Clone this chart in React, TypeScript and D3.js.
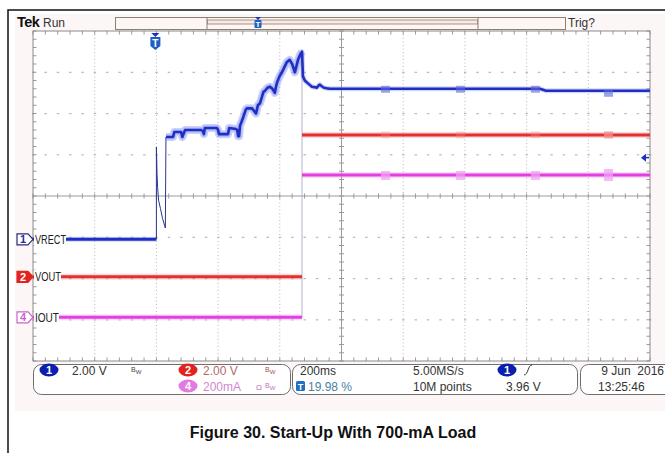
import React from "react";
import * as d3 from "d3";

// ---- data ----
const timeDomainMs = [-400, 1600]; // 200 ms/div, trigger at 19.98 %
const triggerTimeMs = 0;
const triggerLevelV = 3.96;

// CH1 VRECT (2.00 V/div)
const ch1PreTime = [-400, 0];
const ch1PreVolts = [0, 0];
const ch1TransientTime = [0, 0, 1, 2, 4, 7, 13, 20, 29, 31];
const ch1TransientVolts = [0, 4.47, 3.9, 3.2, 2.5, 1.9, 1.5, 1.0, 0.55, 4.96];
const ch1MainTime = [31, 54, 58, 80, 84, 93, 145, 150, 154, 157, 196, 200, 203, 232, 236, 258, 262, 265, 268, 271, 276, 281, 290, 294, 310, 318, 323, 326, 329, 336, 342, 347, 352, 360, 368, 376, 384, 387, 391, 399, 407, 415, 423, 432, 440, 449, 454, 459, 466, 472, 475, 481, 488, 496, 504, 512, 520, 525, 530, 536, 543, 553, 563, 1243, 1263, 1600];
const ch1MainVolts = [4.96, 4.96, 5.2, 5.2, 4.96, 5.3, 5.3, 5.25, 5.1, 5.4, 5.4, 5.3, 5.1, 5.1, 5.4, 5.35, 5.3, 5.0, 5.0, 5.5, 5.7, 5.9, 6.3, 6.35, 6.35, 6.2, 6.1, 6.3, 6.5, 6.6, 6.9, 7.15, 7.2, 7.35, 7.4, 7.3, 7.1, 7.35, 7.6, 7.9, 8.1, 8.35, 8.6, 8.7, 8.5, 8.1, 8.4, 8.7, 8.95, 9.1, 7.9, 7.7, 7.6, 7.5, 7.4, 7.38, 7.35, 7.45, 7.5, 7.42, 7.35, 7.32, 7.3, 7.3, 7.2, 7.2];

// CH2 VOUT (2.00 V/div)
const ch2Time = [-400, 472, 472, 1600];
const ch2Volts = [0, 0, 6.88, 6.88];

// CH4 IOUT (200 mA/div)
const ch4Time = [-400, 472, 472, 1600];
const ch4Amps = [0, 0, 0.69, 0.69];

// small acquisition blips on the settled traces
const blipTimes = [741, 984, 1227, 1464];

const channelLabels = ["VRECT", "VOUT", "IOUT"];
const caption = "Figure 30. Start-Up With 700-mA Load";

// ---- layout ----
const W = 665, H = 453;
const GX0 = 33, GX1 = 650, GY0 = 31, GY1 = 361;

const BLUE = "#1f2fc4";
const RED = "#e2312e";
const MAG = "#e23ee2";
const FONT = "'Liberation Sans', Arial, sans-serif";

export default function App() {
  const x = d3.scaleLinear().domain(timeDomainMs).range([GX0, GX1]);
  const div = d3.scaleLinear().domain([-4, 4]).range([GY1, GY0]);
  const y1 = (v: number) => div(v / 2 - 1.05);
  const y2 = (v: number) => div(v / 2 - 1.96);
  const y4 = (a: number) => div(a / 0.2 - 2.94);

  const dx = (GX1 - GX0) / 10;
  const dy = (GY1 - GY0) / 8;
  const majorX = d3.range(0, 11).map((i) => GX0 + i * dx);
  const majorY = d3.range(0, 9).map((i) => GY0 + i * dy);
  const minorX = d3.range(0, 51).map((i) => GX0 + (i * dx) / 5);
  const minorY = d3.range(0, 41).map((i) => GY0 + (i * dy) / 5);
  const cx = GX0 + 5 * dx, cy = GY0 + 4 * dy;

  const lineOf = (ts: number[], vs: number[], yf: (v: number) => number) =>
    d3.line<number>().x((_, i) => x(ts[i])).y((_, i) => yf(vs[i]))(ts.map((t) => t)) || "";

  const segs = (ts: number[], vs: number[]) => {
    const flat: [number, number, number][] = [];
    for (let i = 0; i < ts.length - 1; i++) {
      if (ts[i] !== ts[i + 1]) flat.push([ts[i], ts[i + 1], vs[i]]);
    }
    return flat;
  };
  const s2 = segs(ch2Time, ch2Volts);
  const s4 = segs(ch4Time, ch4Amps);

  const trace = (d: string, color: string, halo: string, w: number, hw: number) => (
    <g>
      <path d={d} fill="none" stroke={halo} strokeWidth={hw} strokeOpacity={0.35} strokeLinejoin="round" />
      <path d={d} fill="none" stroke={color} strokeWidth={w} strokeLinejoin="round" />
    </g>
  );

  const ch1Settled = (t: number) => {
    const i = d3.bisectLeft(ch1MainTime, t);
    return ch1MainVolts[Math.min(i, ch1MainVolts.length - 1)];
  };

  const marker = (yy: number, num: string, fill: string, stroke: string, textFill: string) => (
    <g>
      <path d={`M17,${yy - 5.5} H28 L33,${yy} L28,${yy + 5.5} H17 Z`} fill={fill} stroke={stroke} strokeWidth={1.2} />
      <text x={23} y={yy + 4} fontSize={11} fontFamily={FONT} fontWeight="bold" fill={textFill} textAnchor="middle">{num}</text>
    </g>
  );

  const ellipse = (ex: number, ey: number, fill: string, num: string) => (
    <g>
      <ellipse cx={ex} cy={ey} rx={9.5} ry={6.5} fill={fill} />
      <text x={ex} y={ey + 4} fontSize={11} fontFamily={FONT} fontWeight="bold" fill="#fff" textAnchor="middle">{num}</text>
    </g>
  );

  const bw = (bx: number, by: number, color: string) => (
    <text x={bx} y={by} fontSize={7} fontFamily={FONT} fill={color}>B<tspan dy={2} fontSize={6}>W</tspan></text>
  );

  const labelLens = [31, 26, 24];

  return (
    <svg width={W} height={H} style={{ position: "absolute", left: 0, top: 0, background: "#fff" }}>
      <rect x={0} y={0} width={W} height={H} fill="#fff" />
      <path d={`M8,${H} V10 H${W}`} fill="none" stroke="#111" strokeWidth={1.5} />
      <rect x={15} y={14} width={W - 15} height={397} fill="#fcf7f6" />
      <rect x={GX0} y={GY0} width={GX1 - GX0} height={GY1 - GY0} fill="#fff" />

      {/* header */}
      <text x={17} y={27} fontSize={14.5} fontFamily={FONT} fontWeight="bold" fill="#111" letterSpacing={-0.6}>Tek</text>
      <text x={43} y={27} fontSize={12} fontFamily={FONT} fill="#333">Run</text>
      <rect x={115.5} y={17.5} width={450} height={12} fill="#fdf6f3" stroke="#8c8070" strokeWidth={1} />
      <line x1={207} y1={17.5} x2={207} y2={29.5} stroke="#8c8070" />
      <line x1={478} y1={17.5} x2={478} y2={29.5} stroke="#8c8070" />
      <rect x={207.5} y={20} width={270} height={4} fill="#fbe9e4" stroke="#8c8070" strokeWidth={0.8} />
      <g transform={`translate(258,17)`}>
        <path d="M-3,0 H3 L0,3 Z" fill={BLUE} />
        <rect x={-3.5} y={3} width={7} height={8} rx={1} fill="#1f5fc4" />
        <text x={0} y={10} fontSize={8} fontFamily={FONT} fontWeight="bold" fill="#fff" textAnchor="middle">T</text>
      </g>
      <text x={568} y={27} fontSize={12} fontFamily={FONT} fill="#333">Trig?</text>

      {/* graticule */}
      {majorX.slice(1, -1).filter((v) => Math.abs(v - cx) > 1).map((gx, i) => (
        <line key={"vx" + i} x1={gx} y1={GY0} x2={gx} y2={GY1} stroke="#b8b8b8" strokeWidth={1} strokeDasharray="1,2.5" />
      ))}
      {majorY.slice(1, -1).filter((v) => Math.abs(v - cy) > 1).map((gy) =>
        minorX.map((mx, j) => (
          <rect key={"hd" + gy + "-" + j} x={mx - 1} y={gy - 0.5} width={2.5} height={1.2} fill="#b8b8b8" />
        ))
      )}
      <line x1={cx} y1={GY0} x2={cx} y2={GY1} stroke="#9a9a9a" strokeWidth={1} />
      <line x1={GX0} y1={cy} x2={GX1} y2={cy} stroke="#9a9a9a" strokeWidth={1} />
      {minorX.map((mx, i) => (
        <g key={"mxt" + i}>
          <line x1={mx} y1={cy - 2.5} x2={mx} y2={cy + 2.5} stroke="#9a9a9a" />
          <line x1={mx} y1={GY0} x2={mx} y2={GY0 + 3.5} stroke="#9a9a9a" />
          <line x1={mx} y1={GY1 - 3.5} x2={mx} y2={GY1} stroke="#9a9a9a" />
        </g>
      ))}
      {minorY.map((my, i) => (
        <g key={"myt" + i}>
          <line x1={cx - 2.5} y1={my} x2={cx + 2.5} y2={my} stroke="#9a9a9a" />
          <line x1={GX0} y1={my} x2={GX0 + 3.5} y2={my} stroke="#9a9a9a" />
          <line x1={GX1 - 3.5} y1={my} x2={GX1} y2={my} stroke="#9a9a9a" />
        </g>
      ))}
      <rect x={GX0} y={GY0} width={GX1 - GX0} height={GY1 - GY0} fill="none" stroke="#8a8a8a" strokeWidth={1} />

      {/* trigger position marker */}
      <g transform={`translate(${x(triggerTimeMs) - 1},33)`}>
        <path d="M-4,0 H4 L0,4 Z" fill={BLUE} />
        <path d="M-5,4 H5 V13 L0,17 L-5,13 Z" fill="#1f5fc4" />
        <text x={0} y={14} fontSize={10} fontFamily={FONT} fontWeight="bold" fill="#fff" textAnchor="middle">T</text>
      </g>

      {/* fast edge at the output turn-on */}
      <line x1={x(472)} y1={y1(9.0)} x2={x(472)} y2={y4(0)} stroke="#b4b4c8" strokeWidth={1} />

      {/* CH4 IOUT */}
      {s4.map(([t0, t1, v], i) => (
        <g key={"c4" + i}>{trace(`M${x(t0)},${y4(v)}H${x(t1)}`, MAG, "#f29af2", 3, 6)}</g>
      ))}
      {blipTimes.map((t, i) => (
        <rect key={"b4" + i} x={x(t) - 4} y={y4(0.69) - 4 - (i === 3 ? 2 : 0)} width={9} height={9 + (i === 3 ? 3 : 0)} fill="#f0a0f0" opacity={0.75} />
      ))}

      {/* CH2 VOUT */}
      {s2.map(([t0, t1, v], i) => (
        <g key={"c2" + i}>{trace(`M${x(t0)},${y2(v)}H${x(t1)}`, RED, "#f4938f", 3, 6)}</g>
      ))}
      {blipTimes.map((t, i) => (
        <rect key={"b2" + i} x={x(t) - 4} y={y2(6.88) - 3.5} width={9} height={7} fill="#f08d88" opacity={i === 3 ? 0.8 : 0.35} />
      ))}

      {/* CH1 VRECT */}
      {trace(lineOf(ch1PreTime, ch1PreVolts, y1), BLUE, "#7d8af0", 3, 5)}
      <path d={lineOf(ch1TransientTime, ch1TransientVolts, y1)} fill="none" stroke="#2a3590" strokeWidth={1} />
      <path d={lineOf(ch1MainTime.filter((t) => t <= 472), ch1MainVolts.filter((_, i) => ch1MainTime[i] <= 472), y1)} fill="none" stroke="#8a98f4" strokeWidth={8} strokeOpacity={0.45} strokeLinejoin="round" />
      {trace(lineOf(ch1MainTime, ch1MainVolts, y1), BLUE, "#7d8af0", 2.6, 5)}
      {blipTimes.map((t, i) => (
        <rect key={"b1" + i} x={x(t) - 4} y={y1(ch1Settled(t)) - 3 + (i === 3 ? 2 : 0)} width={9} height={7} fill="#5b69dc" opacity={0.6} />
      ))}

      {/* trigger level arrow */}
      <path d={`M${GX1 - 9},${y1(triggerLevelV)} L${GX1 - 4},${y1(triggerLevelV) - 4} V${y1(triggerLevelV) + 4} Z`} fill={BLUE} />
      <line x1={GX1 - 5} y1={y1(triggerLevelV)} x2={GX1 - 1} y2={y1(triggerLevelV)} stroke={BLUE} strokeWidth={1.5} />

      {/* channel labels */}
      {[
        { yy: y1(0), num: "1", fill: "#fff", stroke: "#2a2a7a", tf: "#2a2a9a", label: channelLabels[0] },
        { yy: y2(0), num: "2", fill: "#e2231f", stroke: "#e2231f", tf: "#fff", label: channelLabels[1] },
        { yy: y4(0), num: "4", fill: "#fff", stroke: "#c866c8", tf: "#c866c8", label: channelLabels[2] },
      ].map((c, i) => (
        <g key={"lab" + i}>
          {marker(c.yy, c.num, c.fill, c.stroke, c.tf)}
          <rect x={34} y={c.yy - 7} width={labelLens[i] + 1} height={14} fill="#fff" />
          <text x={35} y={c.yy + 4.5} fontSize={12.5} fontFamily={FONT} fill="#222" textLength={labelLens[i]} lengthAdjust="spacingAndGlyphs">{c.label}</text>
        </g>
      ))}

      {/* status panel */}
      <rect x={33.5} y={364.5} width={257} height={30} rx={8} fill="#fff" stroke="#6e6e6e" />
      <rect x={292.5} y={364.5} width={285} height={30} rx={8} fill="#fff" stroke="#6e6e6e" />
      <rect x={580.5} y={364.5} width={100} height={30} rx={8} fill="#fff" stroke="#6e6e6e" />
      {ellipse(49, 370, "#0a1fae", "1")}
      <text x={72} y={375} fontSize={12} fontFamily={FONT} fill="#333">2.00 V</text>
      {bw(131, 372, "#444")}
      {ellipse(188, 370, "#e2231f", "2")}
      <text x={203} y={375} fontSize={12} fontFamily={FONT} fill="#b06a6a">2.00 V</text>
      {bw(265, 372, "#a05050")}
      {ellipse(188, 386, "#e27ae2", "4")}
      <text x={203} y={391} fontSize={12} fontFamily={FONT} fill="#d287d2">200mA</text>
      <text x={256} y={390} fontSize={8} fontFamily={FONT} fill="#c070c0">Ω</text>
      {bw(265, 388, "#c070c0")}

      <text x={300} y={375} fontSize={12} fontFamily={FONT} fill="#333">200ms</text>
      <rect x={296} y={381} width={9} height={10} rx={1.5} fill="#1f6fc4" />
      <text x={300.5} y={390} fontSize={9} fontFamily={FONT} fontWeight="bold" fill="#fff" textAnchor="middle">T</text>
      <text x={308} y={391} fontSize={12} fontFamily={FONT} fill="#4a7fa4">19.98 %</text>
      <text x={413} y={375} fontSize={12} fontFamily={FONT} fill="#333">5.00MS/s</text>
      <text x={413} y={391} fontSize={12} fontFamily={FONT} fill="#333">10M points</text>
      {ellipse(507, 370, "#0a1fae", "1")}
      <path d="M524,375 C528,375 528,365 532,365" fill="none" stroke="#333" strokeWidth={1} />
      <text x={506} y={391} fontSize={12} fontFamily={FONT} fill="#333">3.96 V</text>
      <text x={664} y={375} fontSize={12} fontFamily={FONT} fill="#333" textAnchor="end" xmlSpace="preserve">9 Jun  2016</text>
      <text x={598} y={391} fontSize={12} fontFamily={FONT} fill="#333">13:25:46</text>

      {/* caption */}
      <text x={333} y={438} fontSize={16} fontFamily={FONT} fontWeight="bold" fill="#111" textAnchor="middle">{caption}</text>
    </svg>
  );
}
